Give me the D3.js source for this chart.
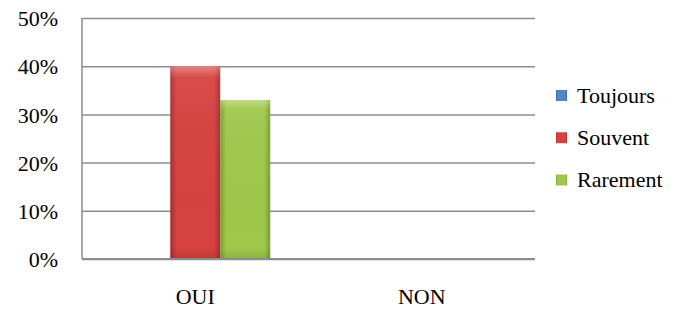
<!DOCTYPE html>
<html>
<head>
<meta charset="utf-8">
<script src="https://cdn.jsdelivr.net/npm/d3@7"></script>
<style>
  html, body { margin: 0; padding: 0; background: #fff; }
  svg { display: block; }
  svg text { font-family: "Liberation Serif", "Times New Roman", Times, "DejaVu Serif", serif; fill: #000; }
</style>
</head>
<body>
<svg id="chart" width="684" height="309"></svg>
<script>
const categories = ["OUI", "NON"];
const seriesNames = ["Toujours", "Souvent", "Rarement"];
const toujours = [0, 0];
const souvent = [0.40, 0];
const rarement = [0.33, 0];
const yTicks = [0, 0.1, 0.2, 0.3, 0.4, 0.5];
const seriesValues = [toujours, souvent, rarement];
const colors = {
  Toujours: ["#2f5f9e", "#4f86c6", "#2f5f9e"],
  Souvent: ["#a52d2f", "#d6423f", "#a52d2f"],
  Rarement: ["#7a9e30", "#9fc84a", "#7a9e30"]
};

const svg = d3.select("#chart");
const margin = { left: 82, right: 149, top: 18, bottom: 50 };
const W = 684, H = 309;
const FS = "22px";

const x0 = d3.scaleBand().domain(categories)
  .range([margin.left, W - margin.right])
  .paddingInner(0.338).paddingOuter(0.169);
const x1 = d3.scaleBand().domain(seriesNames).range([0, x0.bandwidth()]);
const y = d3.scaleLinear().domain([0, 0.5]).range([H - margin.bottom, margin.top]);

// gradients
const defs = svg.append("defs");
seriesNames.forEach(s => {
  const g = defs.append("linearGradient").attr("id", "g-" + s)
    .attr("x1", 0).attr("x2", 1).attr("y1", 0).attr("y2", 0);
  g.append("stop").attr("offset", "0%").attr("stop-color", colors[s][0]);
  g.append("stop").attr("offset", "12%").attr("stop-color", colors[s][1]);
  g.append("stop").attr("offset", "88%").attr("stop-color", colors[s][1]);
  g.append("stop").attr("offset", "100%").attr("stop-color", colors[s][2]);
});
const hl = defs.append("linearGradient").attr("id", "hl")
  .attr("x1", 0).attr("x2", 0).attr("y1", 0).attr("y2", 1);
hl.append("stop").attr("offset", "0%").attr("stop-color", "#fff").attr("stop-opacity", 0.35);
hl.append("stop").attr("offset", "6%").attr("stop-color", "#fff").attr("stop-opacity", 0.05);
hl.append("stop").attr("offset", "94%").attr("stop-color", "#000").attr("stop-opacity", 0.0);
hl.append("stop").attr("offset", "100%").attr("stop-color", "#000").attr("stop-opacity", 0.12);

// gridlines
const yAxis = d3.axisLeft(y).tickValues(yTicks)
  .tickSize(-(W - margin.left - margin.right))
  .tickFormat(d3.format(".0%"));
const gy = svg.append("g").attr("transform", `translate(${margin.left},0)`).call(yAxis)
  .attr("font-family", null).attr("font-size", null);
gy.select(".domain").remove();
gy.selectAll(".tick line").attr("stroke", "#8c8c8c").attr("stroke-width", 1.5);
gy.selectAll(".tick text").attr("x", -24).attr("dy", "0.35em")
  .style("font-size", FS);

// left axis line
svg.append("line").attr("x1", margin.left).attr("x2", margin.left)
  .attr("y1", y(0.5)).attr("y2", y(0)).attr("stroke", "#8c8c8c").attr("stroke-width", 1.5);

// bars
const groups = svg.append("g").selectAll("g").data(categories).join("g")
  .attr("transform", d => `translate(${x0(d)},0)`);
groups.each(function(cat, ci) {
  const g = d3.select(this);
  seriesNames.forEach((s, si) => {
    const v = seriesValues[si][ci];
    if (v <= 0) return;
    g.append("rect").attr("x", x1(s)).attr("width", x1.bandwidth())
      .attr("y", y(v)).attr("height", y(0) - y(v))
      .attr("fill", `url(#g-${s})`);
    g.append("rect").attr("x", x1(s)).attr("width", x1.bandwidth())
      .attr("y", y(v)).attr("height", y(0) - y(v))
      .attr("fill", "url(#hl)");
  });
});

// bottom axis line
svg.append("line").attr("x1", margin.left).attr("x2", W - margin.right)
  .attr("y1", y(0)).attr("y2", y(0)).attr("stroke", "#8c8c8c").attr("stroke-width", 2);

// x labels
const xAxis = d3.axisBottom(x0).tickSize(0);
const gx = svg.append("g").attr("transform", `translate(0,${y(0)})`).call(xAxis)
  .attr("font-family", null).attr("font-size", null);
gx.select(".domain").remove();
gx.selectAll(".tick text").attr("y", 45).attr("dy", null)
  .style("font-size", FS);

// legend
const legendY = d3.scalePoint().domain(seriesNames).range([95.5, 180]);
const lg = svg.append("g").selectAll("g").data(seriesNames).join("g")
  .attr("transform", d => `translate(556,${legendY(d)})`);
lg.append("rect").attr("x", 0).attr("y", -5.5).attr("width", 11).attr("height", 11)
  .attr("fill", d => `url(#g-${d})`);
lg.append("text").attr("x", 21).attr("dy", "0.33em")
  .style("font-size", FS).text(d => d);
</script>
</body>
</html>
